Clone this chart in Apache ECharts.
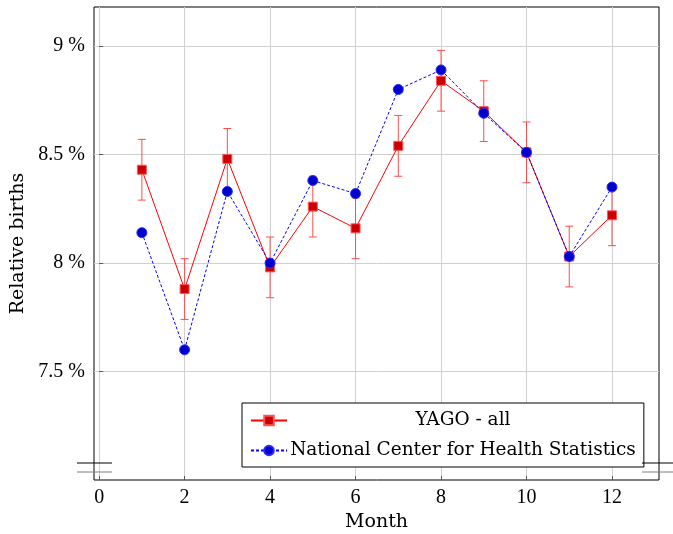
<!DOCTYPE html>
<html>
<head>
<meta charset="utf-8">
<script src="https://cdn.jsdelivr.net/npm/echarts@6/dist/echarts.min.js"></script>
<style>
  html, body { margin: 0; padding: 0; background: #fff; }
  #chart { width: 673px; height: 534px; }
</style>
</head>
<body>
<div id="chart"></div>
<script>
// months on the x axis
const months = [1, 2, 3, 4, 5, 6, 7, 8, 9, 10, 11, 12];
// YAGO - all (percent) and its error half-width
const yago = [8.43, 7.88, 8.48, 7.98, 8.26, 8.16, 8.54, 8.84, 8.70, 8.51, 8.03, 8.22];
const yagoErr = [0.14, 0.14, 0.14, 0.14, 0.14, 0.14, 0.14, 0.14, 0.14, 0.14, 0.14, 0.14];
// National Center for Health Statistics (percent)
const nchs = [8.14, 7.60, 8.33, 8.00, 8.38, 8.32, 8.80, 8.89, 8.69, 8.51, 8.03, 8.35];
// tick labels
const xTicks = [0, 2, 4, 6, 8, 10, 12];
const yTicks = [7.5, 8, 8.5, 9];

const NUMFONT = '"Liberation Serif", serif';   // digits
const TXTFONT = '"DejaVu Serif", serif';       // wider text, closer to Palatino
const chart = echarts.init(document.getElementById('chart'));

const errData = months.map((m, i) => [m, yago[i] - yagoErr[i], yago[i] + yagoErr[i]]);

chart.setOption({
  animation: false,
  textStyle: { fontFamily: NUMFONT },
  grid: {
    left: 94, right: 14, top: 7, bottom: 54,
    outerBoundsMode: 'none', containLabel: false,
    show: true, borderColor: '#000', borderWidth: 1, backgroundColor: 'transparent'
  },
  xAxis: {
    type: 'value', min: -0.12, max: 13.1,
    name: 'Month', nameLocation: 'middle', nameGap: 33,
    nameTextStyle: { fontFamily: TXTFONT, fontSize: 19, color: '#000' },
    axisLine: { show: false },
    axisTick: { show: true, inside: true, length: 4, lineStyle: { color: '#555' }, customValues: xTicks },
    axisLabel: { customValues: xTicks, fontFamily: NUMFONT, fontSize: 20, color: '#000', margin: 8 },
    splitLine: { show: true, lineStyle: { color: '#d0d0d0', width: 1 } }
  },
  yAxis: {
    type: 'value', min: 7.0, max: 9.18,
    name: 'Relative births', nameLocation: 'middle', nameGap: 66,
    nameTextStyle: { fontFamily: TXTFONT, fontSize: 19, color: '#000' },
    axisLine: { show: false },
    axisTick: { show: true, inside: true, length: 4, lineStyle: { color: '#555' }, customValues: yTicks },
    axisLabel: {
      customValues: yTicks, fontFamily: NUMFONT, fontSize: 20, color: '#000', margin: 9,
      formatter: v => v + ' %'
    },
    splitLine: { show: true, lineStyle: { color: '#d0d0d0', width: 1 } }
  },
  legend: {
    data: ['YAGO - all', 'National Center for Health Statistics'],
    orient: 'vertical', left: 242, top: 403,
    backgroundColor: '#fff', borderColor: '#000', borderWidth: 1,
    padding: [8, 8, 7, 8], itemGap: 11, itemWidth: 36, itemHeight: 12,
    formatter: name => '{c|' + name + '}',
    textStyle: {
      fontFamily: TXTFONT, fontSize: 18.5, color: '#000',
      rich: { c: { width: 342, align: 'center', fontFamily: TXTFONT, fontSize: 18.5, lineHeight: 22 } }
    }
  },
  series: [
    {
      name: 'yago-err', type: 'custom', z: 1,
      data: errData,
      renderItem: function (params, api) {
        const lo = api.coord([api.value(0), api.value(1)]);
        const hi = api.coord([api.value(0), api.value(2)]);
        const w = 4;
        const style = { stroke: '#ff4d4d', lineWidth: 1, fill: null };
        return {
          type: 'group',
          children: [
            { type: 'line', shape: { x1: lo[0], y1: lo[1], x2: hi[0], y2: hi[1] }, style: style },
            { type: 'line', shape: { x1: lo[0] - w, y1: lo[1], x2: lo[0] + w, y2: lo[1] }, style: style },
            { type: 'line', shape: { x1: hi[0] - w, y1: hi[1], x2: hi[0] + w, y2: hi[1] }, style: style }
          ]
        };
      }
    },
    {
      name: 'YAGO - all', type: 'line', z: 2,
      data: months.map((m, i) => [m, yago[i]]),
      symbol: 'rect', symbolSize: 9,
      lineStyle: { color: '#ff0000', width: 1 },
      itemStyle: { color: '#cc0000', borderColor: '#ff5555', borderWidth: 1 }
    },
    {
      name: 'National Center for Health Statistics', type: 'line', z: 3,
      data: months.map((m, i) => [m, nchs[i]]),
      symbol: 'circle', symbolSize: 10,
      lineStyle: { color: '#0000ff', width: 1, type: [3, 2] },
      itemStyle: { color: '#0000cc', borderColor: '#2a2aff', borderWidth: 1 }
    }
  ]
});

// axis-break marks at the bottom of both vertical axis lines
const xl = chart.convertToPixel({ xAxisIndex: 0 }, -0.12);
const xr = chart.convertToPixel({ xAxisIndex: 0 }, 13.1);
const yb = chart.convertToPixel({ yAxisIndex: 0 }, 7.0);
function brk(x0, x1) {
  return [
    { type: 'line', shape: { x1: x0, y1: yb - 17, x2: x1, y2: yb - 17 }, style: { stroke: '#000', lineWidth: 1.2 }, z: 10 },
    { type: 'line', shape: { x1: x0, y1: yb - 8, x2: x1, y2: yb - 8 }, style: { stroke: '#808080', lineWidth: 1.2 }, z: 10 }
  ];
}
chart.setOption({ graphic: brk(xl - 17, xl + 18).concat(brk(xr - 17, xr + 16)) });
</script>
</body>
</html>
